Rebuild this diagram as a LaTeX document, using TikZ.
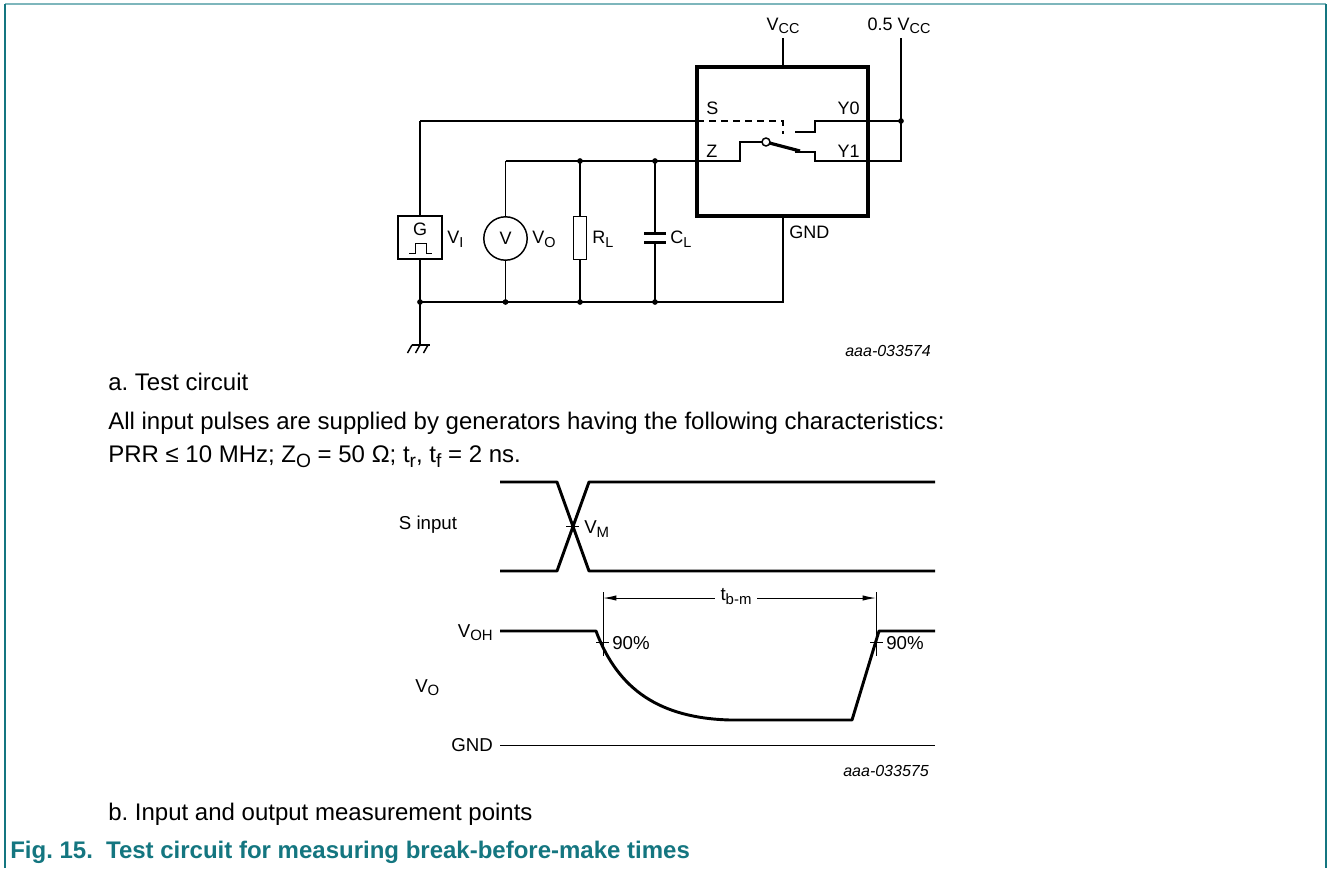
\documentclass[tikz,border=0pt]{standalone}
\usepackage{fontspec}
\setmainfont{Liberation Sans}
\usetikzlibrary{arrows.meta}
\definecolor{figteal}{RGB}{20,118,128}
\definecolor{frameteal}{RGB}{126,182,188}
\newcommand{\lowidx}[1]{\raisebox{-0.4ex}{\scalebox{0.8}{#1}}}
\frenchspacing

\begin{document}
\begin{tikzpicture}[x=0.75pt,y=-0.75pt,
    wire/.style={line width=1.1pt},
    thinwire/.style={line width=0.75pt},
    icbox/.style={line width=2.4pt},
    wave/.style={line width=2.2pt,line join=round},
    pin/.style={font=\fontsize{13.5}{15}\selectfont,inner sep=0pt},
    sig/.style={font=\fontsize{14}{16}\selectfont,inner sep=0pt},
    body/.style={font=\fontsize{18}{21}\selectfont,inner sep=0pt},
    code/.style={font=\fontsize{12}{14}\selectfont\itshape,inner sep=0pt},
    tbmtip/.tip={Latex[length=10pt,width=4pt]}]

  \useasboundingbox (0,0) rectangle (1328,868);
  \draw[frameteal,line width=1.2pt] (5,4) -- (1326,4);
  \draw[figteal,line width=1pt] (5,4) -- (5,868);
  \draw[figteal,line width=1pt] (1326,4) -- (1326,868);

  % test circuit
  \coordinate (vccpin) at (783,67);
  \coordinate (gndpin) at (783,216);
  \coordinate (vcc) at (783,38);
  \coordinate (halfvcc) at (901,38);
  \coordinate (sj) at (420,121);
  \coordinate (spin) at (697,121);
  \coordinate (sdash) at (783,121);
  \coordinate (y0dot) at (901,121);
  \coordinate (vmtop) at (505.5,161);
  \coordinate (rlj) at (580,161);
  \coordinate (clj) at (655,161);
  \coordinate (gndL) at (420,302);
  \coordinate (gndV) at (505.5,302);
  \coordinate (gndR) at (580,302);
  \coordinate (gndC) at (655,302);
  \coordinate (gndI) at (783,302);
  \coordinate (earth) at (420,345);

  \draw[icbox] (697,67) rectangle (868,216);
  \draw[wire] (vcc) -- (vccpin);
  \node[pin,anchor=base] (vcclbl) at (783,30) {V\lowidx{CC}};
  \node[pin,anchor=base] (halfvcclbl) at (899,30) {0.5 V\lowidx{CC}};
  \node[pin,anchor=base west] (slbl) at (706,114) {S};
  \node[pin,anchor=base east] (y0lbl) at (860,114) {Y0};
  \node[pin,anchor=base west] (zlbl) at (706,157) {Z};
  \node[pin,anchor=base east] (y1lbl) at (860,157) {Y1};
  \node[pin,anchor=west] (gndlbl) at (789,232) {GND};

  % switch
  \draw[wire] (sj) -- (spin);
  \draw[wire,dash pattern=on 5.5pt off 3.5pt] (spin) -- (sdash) -- (783,134);
  \draw[wire] (y0dot) -- (815,121) -- (815,132) -- (795,132);
  \draw[wire] (795,152) -- (815,152) -- (815,161) -- (901,161) -- (halfvcc);
  \draw[wire] (vmtop) -- (740,161) -- (740,142) -- (762,142);
  \draw[wire] (766,142) circle (4);
  \draw[line width=2.4pt] (769.5,143) -- (800,151);

  % generator
  \draw[wire] (398,216) rectangle (442,259);
  \node[pin] (glbl) at (420,229) {G};
  \draw[thinwire] (409,253) -- (415,253) -- (415,243) -- (426,243) -- (426,253) -- (432,253);
  \draw[wire] (sj) -- (420,216);
  \draw[wire] (420,259) -- (gndL);
  \node[pin,anchor=west] (vilbl) at (447,239) {V\lowidx{I}};

  % meter, load
  \draw[wire] (505.5,238.5) circle (21.7);
  \node[pin] (vmeter) at (505.5,238.5) {V};
  \draw[wire] (vmtop) -- (505.5,216.8);
  \draw[wire] (505.5,260.2) -- (gndV);
  \node[pin,anchor=west] (volbl) at (532,239) {V\lowidx{O}};
  \draw[wire] (573.5,216.7) rectangle (586.5,259.3);
  \draw[wire] (rlj) -- (580,216.7);
  \draw[wire] (580,259.3) -- (gndR);
  \node[pin,anchor=west] (rllbl) at (592,239) {R\lowidx{L}};
  \draw[wire] (clj) -- (655,233.5);
  \draw[line width=2.6pt] (644,233.5) -- (666,233.5);
  \draw[line width=2.6pt] (644,242.5) -- (666,242.5);
  \draw[wire] (655,242.5) -- (gndC);
  \node[pin,anchor=west] (cllbl) at (670,239) {C\lowidx{L}};

  % ground rail
  \draw[wire] (gndL) -- (gndI) -- (gndpin);
  \draw[wire] (gndL) -- (earth);
  \draw[wire] (411.5,345) -- (429.5,345);
  \foreach \gx in {412,420,428}
    \draw[wire] (\gx,345) -- (\gx-4.5,353);
  \foreach \dx/\dy in {420/302,505.5/302,580/302,655/302,580/161,655/161,901/121}
    \filldraw (\dx,\dy) circle (2.5);
  \node[code,anchor=east] (circcode) at (931,351) {aaa-033574};

  % notes
  \node[body,anchor=base west] (capa) at (108,390) {a. Test circuit};
  \node[body,anchor=base west] (genline) at (108,429) {All input pulses are supplied by generators having the following characteristics:};
  \node[body,anchor=base west] (prrline) at (108,462) {PRR ≤ 10 MHz; Z\lowidx{O} = 50 Ω; t\lowidx{r}, t\lowidx{f} = 2 ns.};

  % waveforms
  \node[sig] (sinlbl) at (428,525) {S input};
  \draw[wave] (500,482) -- (557,482) -- (589,571) -- (935,571);
  \draw[wave] (500,571) -- (557,571) -- (589,482) -- (935,482);
  \draw[thinwire] (566,526.5) -- (579,526.5);
  \node[sig,anchor=west] (vmlbl) at (584,529) {V\lowidx{M}};

  \coordinate (tbmL) at (603,598);
  \coordinate (tbmR) at (876,598);
  \draw[thinwire] (603,592) -- (603,656);
  \draw[thinwire] (876,592) -- (876,656);
  \draw[thinwire,tbmtip-tbmtip] (tbmL) -- (tbmR);
  \node[sig,fill=white,inner xsep=4pt,inner ysep=1pt] (tbm) at (736,597) {t\lowidx{b-m}};

  \node[sig,anchor=base east] (vohlbl) at (493,637) {V\lowidx{OH}};
  \node[sig,anchor=base west] (vowave) at (415,692) {V\lowidx{O}};
  \node[sig,anchor=east] (gndwave) at (493,745) {GND};
  \draw[wave] (500,631) -- (596,631) .. controls (618,690) and (660,718) .. (730,720)
    -- (852,720) -- (879,631) -- (935,631);
  \draw[thinwire] (500,745) -- (935,745);
  \draw[thinwire] (596,642) -- (609,642);
  \draw[thinwire] (870,642) -- (883,642);
  \node[sig,anchor=west] (p90a) at (612,643) {90\%};
  \node[sig,anchor=west] (p90b) at (886,643) {90\%};
  \node[code,anchor=east] (wavecode) at (929,771) {aaa-033575};

  \node[body,anchor=base west] (capb) at (108,820) {b. Input and output measurement points};
  \node[body,font=\fontsize{18}{21}\selectfont\bfseries,text=figteal,anchor=base west] (figcap) at (10,858) {Fig. 15.\hspace{0.55em}Test circuit for measuring break-before-make times};
\end{tikzpicture}
\end{document}
